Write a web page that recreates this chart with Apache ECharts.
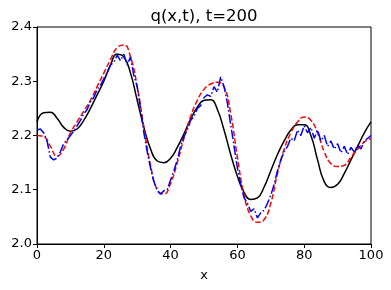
<!DOCTYPE html>
<html><head><meta charset="utf-8">
<script src="https://cdn.jsdelivr.net/npm/echarts@6/dist/echarts.min.js"></script>
<style>html,body{margin:0;padding:0;background:#fff}#c{width:391px;height:290px}</style>
</head><body><div id="c"></div>
<script>
var xCoarse = [0,2,4,6,8,10,12,14,16,18,20,22,24,26,28,30,32,34,36,38,40,42,44,46,48,50,52,54,56,58,60,62,64,66,68,70,72,74,76,78,80,82,84,86,88,90,92,94,96,98,100];
var qBlack = [2.225,2.242,2.243,2.232,2.215,2.208,2.212,2.228,2.25,2.275,2.30,2.33,2.35,2.345,2.315,2.265,2.215,2.175,2.153,2.15,2.158,2.178,2.203,2.23,2.252,2.265,2.266,2.248,2.21,2.165,2.125,2.095,2.082,2.085,2.105,2.135,2.165,2.19,2.21,2.22,2.22,2.2,2.155,2.115,2.104,2.11,2.13,2.155,2.18,2.205,2.225];
var qRed = [2.20,2.198,2.18,2.162,2.175,2.205,2.225,2.245,2.265,2.29,2.315,2.34,2.362,2.367,2.345,2.29,2.215,2.145,2.1,2.092,2.112,2.15,2.195,2.235,2.265,2.285,2.295,2.298,2.29,2.24,2.16,2.09,2.052,2.04,2.045,2.075,2.13,2.175,2.205,2.225,2.234,2.228,2.205,2.17,2.148,2.143,2.145,2.16,2.175,2.188,2.195];
var xFine = [];
for (var i = 0; i <= 100; i++) xFine.push(i);
var qBlue = [2.21,2.212,2.205,2.19,2.16,2.155,2.158,2.17,2.185,2.192,2.2,2.208,2.218,2.228,2.24,2.248,2.262,2.27,2.285,2.292,2.305,2.315,2.33,2.335,2.348,2.338,2.35,2.33,2.345,2.31,2.29,2.25,2.205,2.17,2.14,2.115,2.098,2.092,2.098,2.1,2.118,2.135,2.155,2.18,2.198,2.21,2.228,2.235,2.25,2.255,2.27,2.275,2.272,2.29,2.28,2.308,2.29,2.26,2.22,2.18,2.14,2.11,2.085,2.075,2.06,2.065,2.048,2.058,2.062,2.075,2.09,2.11,2.135,2.155,2.17,2.18,2.195,2.19,2.21,2.2,2.218,2.205,2.215,2.195,2.21,2.19,2.2,2.18,2.19,2.175,2.185,2.168,2.18,2.165,2.178,2.17,2.182,2.175,2.19,2.195,2.2];
var titleText = "q(x,t), t=200";
var xLabel = "x";

function pairs(xs, ys){ return xs.map(function(x,i){ return [x, ys[i]]; }); }
var chart = echarts.init(document.getElementById('c'), null, {renderer:'canvas'});
var font = 'DejaVu Sans';
chart.setOption({
  animation:false,
  backgroundColor:'#fff',
  graphic:[{type:'text', x:204, y:17, style:{text:titleText, fontFamily:font, fontSize:16.5, fill:'#000', align:'center', verticalAlign:'middle'}}],
  grid:{left:37, right:20, top:27, bottom:46, show:true, borderColor:'#000', borderWidth:1},
  xAxis:{type:'value', min:0, max:100, interval:20, name:xLabel, nameLocation:'middle', nameGap:25,
    nameTextStyle:{fontFamily:font, fontSize:13, color:'#000'},
    axisLine:{show:true, lineStyle:{color:'#000'}}, axisTick:{show:true, length:4, lineStyle:{color:'#000'}},
    axisLabel:{fontFamily:font, fontSize:13, color:'#000', margin:5}, splitLine:{show:false}},
  yAxis:{type:'value', min:2.0, max:2.4, interval:0.1,
    axisLine:{show:true, lineStyle:{color:'#000'}}, axisTick:{show:true, length:4, lineStyle:{color:'#000'}},
    axisLabel:{fontFamily:font, fontSize:13, color:'#000', margin:5, formatter:function(v){return v.toFixed(1);}}, splitLine:{show:false}},
  series:[
    {type:'line', data:pairs(xCoarse,qBlack), smooth:0.5, symbol:'none', lineStyle:{color:'#000', width:1.5}},
    {type:'line', data:pairs(xCoarse,qRed), smooth:0.5, symbol:'none', lineStyle:{color:'#ff0000', width:1.5, type:[5.5,2.4]}},
    {type:'line', data:pairs(xFine,qBlue), symbol:'none', lineStyle:{color:'#0000ff', width:1.5, type:[9.6,2.4,1.5,2.4]}}
  ]
});
</script></body></html>
